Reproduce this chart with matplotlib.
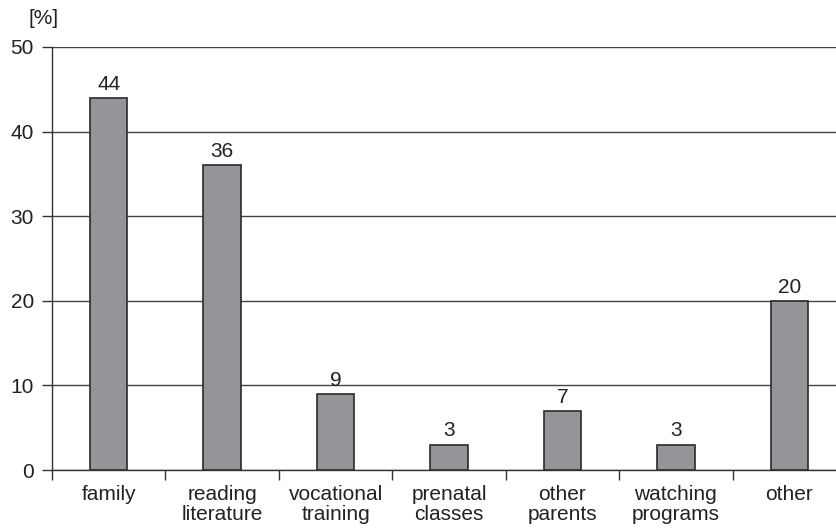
import numpy as np
import matplotlib.pyplot as plt

categories = ["family", "reading\nliterature", "vocational\ntraining", "prenatal\nclasses",
              "other\nparents", "watching\nprograms", "other"]
values = [44, 36, 9, 3, 7, 3, 20]
yticks = [0, 10, 20, 30, 40, 50]

plt.rcParams['font.family'] = ['Liberation Sans', 'DejaVu Sans']

fig = plt.figure(figsize=(8.36, 5.31), dpi=100)
ax = fig.add_axes([52 / 836, 61 / 531, 1 - 52 / 836, 423 / 531])

x = np.arange(len(categories))
ax.bar(x, values, width=0.33, color='#939598', edgecolor='#2a2a2a', linewidth=1.2, zorder=3)

for xi, v in zip(x, values):
    ax.text(xi, v + 0.5, str(v), ha='center', va='bottom', fontsize=15, color='#222222')

ax.set_ylim(0, 50)
ax.set_xlim(-0.5, 6.5 - 10 / 113.5)
ax.set_yticks(yticks)
ax.set_yticklabels([str(t) for t in yticks], fontsize=15, color='#222222')
ax.yaxis.grid(True, color='#444444', linewidth=1.0, zorder=0)

ax.set_xticks(x)
ax.set_xticklabels(categories, fontsize=15, color='#222222', linespacing=1.05)
ax.set_xticks(np.arange(-0.5, 6.5, 1), minor=True)
ax.tick_params(axis='x', which='major', length=0, pad=11)
ax.tick_params(axis='x', which='minor', length=7, width=1, color='#333333', direction='out')
ax.tick_params(axis='y', length=7, width=1, color='#333333', pad=6)

for s in ['top', 'right']:
    ax.spines[s].set_visible(False)
for s in ['left', 'bottom']:
    ax.spines[s].set_color('#333333')
    ax.spines[s].set_linewidth(1.0)

ax.text(-0.011, 1.045, "[%]", transform=ax.transAxes, fontsize=15, ha='center', va='bottom', color='#222222')

fig.savefig("out.png", dpi=100)
